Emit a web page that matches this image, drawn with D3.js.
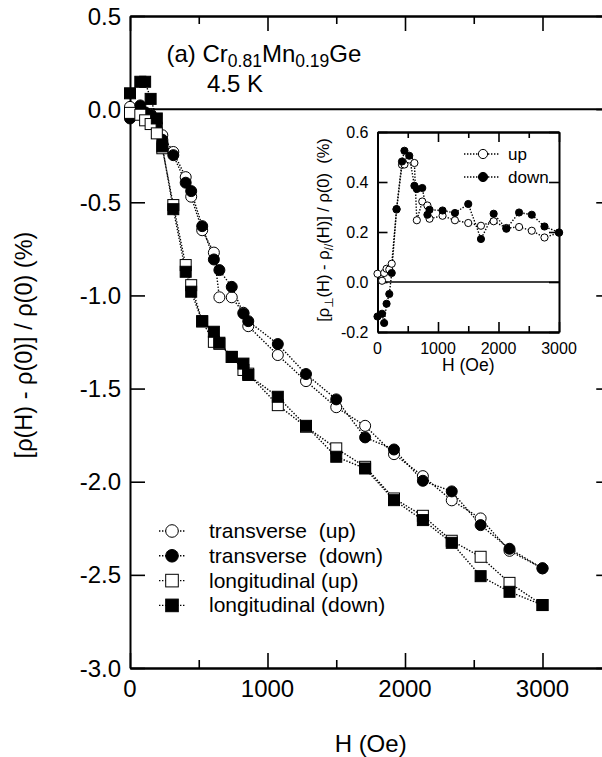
<!DOCTYPE html>
<html>
<head>
<meta charset="utf-8">
<script src="https://cdn.jsdelivr.net/npm/d3@7"></script>
<style>
  body { margin: 0; background: #fff; }
  text { font-family: "Liberation Sans", Arial, sans-serif; fill: #000; }
</style>
</head>
<body>
<svg id="chart" width="602" height="757"></svg>
<script>
// applied field (Oe), shared by all series
const fields = [0, 75, 110, 150, 195, 235, 315, 405, 445, 525, 610, 650, 740, 825, 860,
  1075, 1280, 1500, 1710, 1920, 2130, 2340, 2550, 2760, 3000]

// main panel: [rho(H) - rho(0)] / rho(0) in %
const transUp = [0.012, -0.025, -0.024, -0.027, -0.08, -0.14, -0.23, -0.365, -0.47, -0.65, -0.77, -1.01,
  -1.01, -1.093, -1.165, -1.32, -1.46, -1.6, -1.7, -1.852, -1.97, -2.1, -2.197, -2.371, -2.465]
const transDown = [-0.05, 0.02, -0.017, -0.03, -0.095, -0.164, -0.247, -0.395, -0.44, -0.628, -0.807, -0.864,
  -0.954, -1.097, -1.138, -1.261, -1.422, -1.558, -1.762, -1.827, -1.995, -2.052, -2.233, -2.36, -2.465]
const longUp = [-0.02, -0.03, -0.06, -0.08, -0.13, -0.21, -0.515, -0.837, -0.945, -1.14, -1.249, -1.26,
  -1.33, -1.4, -1.42, -1.589, -1.705, -1.821, -1.92, -2.09, -2.183, -2.317, -2.403, -2.543, -2.662]
const longDown = [0.085, 0.147, 0.147, 0.055, -0.05, -0.2, -0.537, -0.873, -0.98, -1.138, -1.195, -1.254,
  -1.33, -1.366, -1.427, -1.544, -1.7, -1.866, -1.929, -2.099, -2.206, -2.328, -2.507, -2.591, -2.662]

// inset: [rho_perp(H) - rho_par(H)] / rho(0) in %
const insetUp = [0.033, 0.005, 0.036, 0.053, 0.05, 0.073, 0.29, 0.469, 0.47, 0.49, 0.476, 0.247,
  0.322, 0.306, 0.253, 0.265, 0.247, 0.236, 0.225, 0.243, 0.216, 0.22, 0.205, 0.178, 0.197]
const insetDown = [-0.138, -0.127, -0.164, -0.087, -0.048, 0.036, 0.292, 0.482, 0.525, 0.505, 0.385, 0.372,
  0.376, 0.269, 0.289, 0.286, 0.276, 0.312, 0.172, 0.273, 0.213, 0.278, 0.269, 0.222, 0.198]

const mainXTicks = [0, 1000, 2000, 3000]
const mainYTicks = [0.5, 0.0, -0.5, -1.0, -1.5, -2.0, -2.5, -3.0]
const insetXTicks = [0, 1000, 2000, 3000]
const insetYTicks = [0.6, 0.4, 0.2, 0.0, -0.2]

const legendLabels = ['transverse  (up)', 'transverse  (down)', 'longitudinal (up)', 'longitudinal (down)']

const svg = d3.select('#chart')

// plain hyphen as minus sign, like the original figure
const fmt1 = d3.formatLocale({ decimal: '.', thousands: ',', grouping: [3], currency: ['', ''], minus: '-' }).format('.1f')

// ---------- main panel ----------
const x = d3.scaleLinear().domain([0, 3500]).range([130, 611.25])
const y = d3.scaleLinear().domain([-3, 0.5]).range([668, 16])

const series = [
  { values: transUp, shape: 'circle', fill: '#fff' },
  { values: transDown, shape: 'circle', fill: '#000' },
  { values: longUp, shape: 'square', fill: '#fff' },
  { values: longDown, shape: 'square', fill: '#000' },
]

const drawAxes = (g, xs, ys, xMajor, xMinor, yMajor, bigTick, smallTick, fontSize, yFmt, xLabels, yLabels) => {
  const [x0, x1] = xs.range()
  const [y0, y1] = ys.range()
  // bottom and top, major + minor
  g.append('g').attr('transform', `translate(0,${y0})`)
    .call(d3.axisBottom(xs).tickValues(xMajor).tickSize(-bigTick).tickSizeOuter(0).tickFormat(''))
  g.append('g').attr('transform', `translate(0,${y0})`)
    .call(d3.axisBottom(xs).tickValues(xMinor).tickSize(-smallTick).tickSizeOuter(0).tickFormat(''))
  g.append('g').attr('transform', `translate(0,${y1})`)
    .call(d3.axisTop(xs).tickValues(xMajor).tickSize(-bigTick).tickSizeOuter(0).tickFormat(''))
  g.append('g').attr('transform', `translate(0,${y1})`)
    .call(d3.axisTop(xs).tickValues(xMinor).tickSize(-smallTick).tickSizeOuter(0).tickFormat(''))
  g.append('g').attr('transform', `translate(${x0},0)`)
    .call(d3.axisLeft(ys).tickValues(yMajor).tickSize(-bigTick).tickSizeOuter(0).tickFormat(''))
  g.append('g').attr('transform', `translate(${x1},0)`)
    .call(d3.axisRight(ys).tickValues(yMajor).tickSize(-bigTick).tickSizeOuter(0).tickFormat(''))
  g.selectAll('.domain').attr('stroke', '#000').attr('stroke-width', 2)
  g.selectAll('.tick line').attr('stroke', '#000').attr('stroke-width', 1.6)

  g.selectAll(null).data(xLabels.values).join('text')
    .attr('x', d => xs(d)).attr('y', y0 + xLabels.offset)
    .attr('text-anchor', 'middle').attr('font-size', fontSize)
    .text(d => d)
  g.selectAll(null).data(yLabels.values).join('text')
    .attr('x', x0 - yLabels.offset).attr('y', d => ys(d)).attr('dy', '0.36em')
    .attr('text-anchor', 'end').attr('font-size', fontSize)
    .text(d => yFmt(d))
}

const drawSeries = (g, xs, ys, list, r, side) => {
  const line = d3.line()
    .defined(d => d[1] != null)
    .x(d => xs(d[0])).y(d => ys(d[1]))
  list.forEach(s => {
    const pts = fields.map((f, i) => [f, s.values[i]])
    g.append('path').datum(pts)
      .attr('d', line).attr('fill', 'none')
      .attr('stroke', '#000').attr('stroke-width', 1.4)
      .attr('stroke-dasharray', '1.4,1.6')
  })
  list.forEach(s => {
    const pts = fields.map((f, i) => [f, s.values[i]]).filter(d => d[1] != null)
    if (s.shape === 'circle') {
      g.selectAll(null).data(pts).join('circle')
        .attr('cx', d => xs(d[0])).attr('cy', d => ys(d[1])).attr('r', r)
        .attr('fill', s.fill).attr('stroke', '#000').attr('stroke-width', 1)
    } else {
      g.selectAll(null).data(pts).join('rect')
        .attr('x', d => xs(d[0]) - side / 2).attr('y', d => ys(d[1]) - side / 2)
        .attr('width', side).attr('height', side)
        .attr('fill', s.fill).attr('stroke', '#000').attr('stroke-width', 1)
    }
  })
}

const main = svg.append('g')

// zero line
main.append('line')
  .attr('x1', x(0)).attr('x2', x(3500)).attr('y1', y(0)).attr('y2', y(0))
  .attr('stroke', '#000').attr('stroke-width', 2)

drawAxes(main, x, y, [0, 1000, 2000, 3000], [500, 1500, 2500], d3.range(-3, 0.51, 0.5),
  15, 8, 24, fmt1,
  { values: mainXTicks, offset: 29 }, { values: mainYTicks, offset: 9 })

drawSeries(main, x, y, series, 5.5, 11)

// axis titles
main.append('text')
  .attr('x', (x(0) + x(3500)) / 2).attr('y', 752)
  .attr('text-anchor', 'middle').attr('font-size', 24)
  .text('H (Oe)')
main.append('text')
  .attr('transform', `translate(32,${(y(0.5) + y(-3)) / 2 + 3}) rotate(-90)`)
  .attr('text-anchor', 'middle').attr('font-size', 23.5)
  .text('[\u03c1(H) - \u03c1(0)] / \u03c1(0) (%)')

// sample label
const title = main.append('text').attr('x', 166.5).attr('y', 62).attr('font-size', 24)
title.append('tspan').text('(a) Cr')
title.append('tspan').attr('font-size', 17.5).attr('dy', 5).text('0.81')
title.append('tspan').attr('dy', -5).text('Mn')
title.append('tspan').attr('font-size', 17.5).attr('dy', 5).text('0.19')
title.append('tspan').attr('dy', -5).text('Ge')
main.append('text').attr('x', 207).attr('y', 92).attr('font-size', 24).text('4.5 K')

// legend
const legend = main.append('g')
legendLabels.forEach((lab, i) => {
  const cy = 531 + i * 24.8
  const s = series[i]
  legend.append('line')
    .attr('x1', 159).attr('x2', 185).attr('y1', cy).attr('y2', cy)
    .attr('stroke', '#000').attr('stroke-width', 1.4).attr('stroke-dasharray', '1.4,1.6')
  if (s.shape === 'circle') {
    legend.append('circle').attr('cx', 172).attr('cy', cy).attr('r', 6.3)
      .attr('fill', s.fill).attr('stroke', '#000')
  } else {
    legend.append('rect').attr('x', 172 - 6.3).attr('y', cy - 6.3).attr('width', 12.6).attr('height', 12.6)
      .attr('fill', s.fill).attr('stroke', '#000')
  }
  legend.append('text')
    .attr('x', 209).attr('y', cy).attr('dy', '0.33em')
    .attr('font-size', 21).attr('xml:space', 'preserve').style('white-space', 'pre')
    .text(lab)
})

// ---------- inset ----------
const ix = d3.scaleLinear().domain([0, 3000]).range([377.5, 559])
const iy = d3.scaleLinear().domain([-0.2, 0.6]).range([332, 132])
const inset = svg.append('g')

inset.append('line')
  .attr('x1', ix(0)).attr('x2', ix(3000)).attr('y1', iy(0)).attr('y2', iy(0))
  .attr('stroke', '#000').attr('stroke-width', 1.6)

drawAxes(inset, ix, iy, [0, 1000, 2000, 3000], [500, 1500, 2500], insetYTicks,
  10, 6, 16, fmt1,
  { values: insetXTicks, offset: 22 }, { values: insetYTicks, offset: 9 })

const insetSeries = [
  { values: insetUp, shape: 'circle', fill: '#fff' },
  { values: insetDown, shape: 'circle', fill: '#000' },
]
drawSeries(inset, ix, iy, insetSeries, 3.6, 7)

inset.append('text')
  .attr('x', (ix(0) + ix(3000)) / 2).attr('y', 371)
  .attr('text-anchor', 'middle').attr('font-size', 17.5)
  .text('H (Oe)')

const iyTitle = inset.append('text')
  .attr('transform', `translate(329,${(iy(0.6) + iy(-0.2)) / 2 - 2}) rotate(-90)`)
  .attr('text-anchor', 'middle').attr('font-size', 16.5)
  .attr('xml:space', 'preserve').style('white-space', 'pre')
iyTitle.append('tspan').text('[\u03c1')
iyTitle.append('tspan').attr('font-size', 12).attr('dy', 4)
  .style('font-family', '"DejaVu Sans", sans-serif').style('fill', '#000').text('\u22a5')
iyTitle.append('tspan').attr('dy', -4).text('(H) - \u03c1')
iyTitle.append('tspan').attr('font-size', 12).attr('dy', 4).text('//')
iyTitle.append('tspan').attr('dy', -4).text('(H)] / \u03c1(0)  (%)')

const insetLegend = ['up', 'down']
insetLegend.forEach((lab, i) => {
  const cy = 154 + i * 23
  inset.append('line')
    .attr('x1', 464).attr('x2', 499).attr('y1', cy).attr('y2', cy)
    .attr('stroke', '#000').attr('stroke-width', 1.4).attr('stroke-dasharray', '1.4,1.6')
  inset.append('circle').attr('cx', 483).attr('cy', cy).attr('r', 4.6)
    .attr('fill', insetSeries[i].fill).attr('stroke', '#000')
  inset.append('text')
    .attr('x', 508).attr('y', cy).attr('dy', '0.33em')
    .attr('font-size', 17).text(lab)
})
</script>
</body>
</html>
